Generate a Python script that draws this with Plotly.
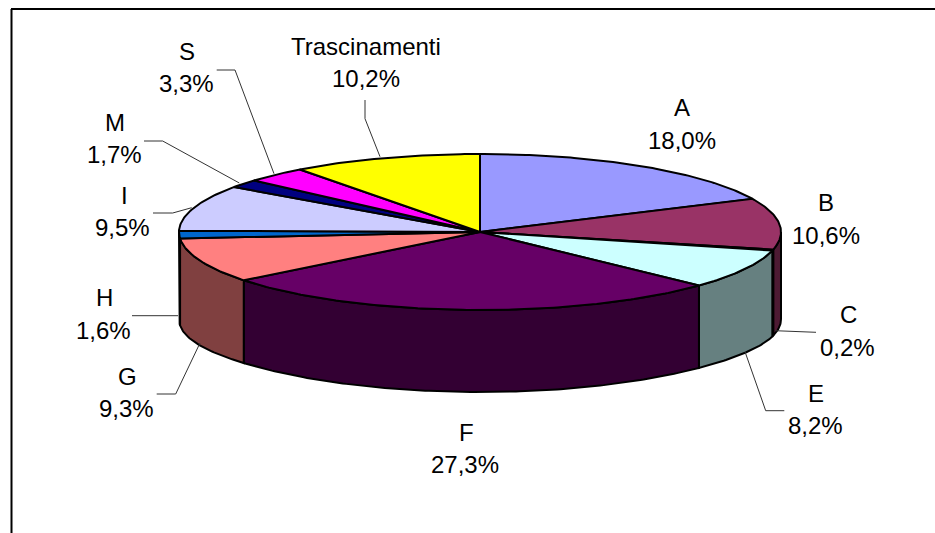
import numpy as np
import plotly.graph_objects as go

categories = ["A", "B", "C", "E", "F", "G", "H", "I", "M", "S", "Trascinamenti"]
values = [18.0, 10.6, 0.2, 8.2, 27.3, 9.3, 1.6, 9.5, 1.7, 3.3, 10.2]
top_colors = ["#9999FF", "#993366", "#FFFFCC", "#CCFFFF", "#660066", "#FF8080",
              "#0066CC", "#CCCCFF", "#000080", "#FF00FF", "#FFFF00"]
side_colors = ["#4D4D80", "#4D1A33", "#808066", "#668080", "#330033", "#804040",
               "#003366", "#666680", "#000040", "#800080", "#808000"]

# Label centres: name (x, y), value (x, y)
label_pos = {
    "A": (682, 107.7, 682, 140),
    "B": (825.7, 202, 826, 235),
    "C": (848, 314, 847, 347),
    "E": (816, 393, 815, 425),
    "F": (466, 432, 464.5, 464),
    "G": (127, 376, 126, 408),
    "H": (104, 297, 103, 330),
    "I": (124, 195, 122, 227.7),
    "M": (115, 122.7, 114, 154),
    "S": (187, 51.7, 186, 83),
    "Trascinamenti": (366, 46.7, 366, 78.7),
}
# Leader line paths
leaders = {
    "Trascinamenti": ([365, 365, 380], [100, 118.7, 156.7]),
    "S": ([216.7, 235, 274], [70, 70, 173.7]),
    "M": ([144, 162.7, 239.3], [141, 141, 183]),
    "I": ([153, 172.7, 191.7], [213, 213, 207.7]),
    "H": ([132, 178], [315.7, 315.7]),
    "G": ([156.7, 175.7, 200], [394, 394, 343]),
    "C": ([816, 775], [332.3, 330.7]),
    "E": ([784.3, 765.7, 745], [410.7, 410.7, 351.7]),
}

CX, CY, RX, RY = 480.0, 232.0, 301.0, 78.0
DEPTH, DEPTH_EXTRA = 82.0, 5.0
LINE = 2.0

total = sum(values)
ends = np.cumsum(values) / total * 2 * np.pi
starts = np.concatenate(([0.0], ends[:-1]))


def px(t):
    return CX + RX * np.sin(t)


def py(t):
    return CY - RY * np.cos(t)


def depth(t):
    return DEPTH + DEPTH_EXTRA * np.abs(np.sin(t)) ** 8


fig = go.Figure()

# Side walls: the front half of the disc, 90 to 270 degrees clockwise from top
for cat, s, e, col in zip(categories, starts, ends, side_colors):
    lo, hi = max(s, np.pi / 2), min(e, 3 * np.pi / 2)
    if hi <= lo:
        continue
    t = np.linspace(lo, hi, max(2, int((hi - lo) * 80)))
    xs = np.concatenate((px(t), px(t)[::-1], px(t)[:1]))
    ys = np.concatenate((py(t), (py(t) + depth(t))[::-1], py(t)[:1]))
    fig.add_trace(go.Scatter(x=xs, y=ys, mode="lines", fill="toself", fillcolor=col,
                             line=dict(color="black", width=LINE), hoverinfo="skip"))

# Top slices
for cat, s, e, col in zip(categories, starts, ends, top_colors):
    t = np.linspace(s, e, max(2, int((e - s) * 80)))
    xs = np.concatenate(([CX], px(t), [CX]))
    ys = np.concatenate(([CY], py(t), [CY]))
    fig.add_trace(go.Scatter(x=xs, y=ys, mode="lines", fill="toself", fillcolor=col,
                             line=dict(color="black", width=LINE), hoverinfo="skip"))

# Leader lines
for cat, (lx, ly) in leaders.items():
    fig.add_trace(go.Scatter(x=lx, y=ly, mode="lines",
                             line=dict(color="#333333", width=1), hoverinfo="skip"))

annotations = []
for cat, val in zip(categories, values):
    nx, ny, vx, vy = label_pos[cat]
    pct = f"{val:.1f}%".replace(".", ",")
    for text, x, y in ((cat, nx, ny), (pct, vx, vy)):
        annotations.append(dict(x=x, y=y, text=text, showarrow=False, xanchor="center",
                                yanchor="middle", xref="x", yref="y",
                                font=dict(family="Liberation Sans", size=24, color="black")))

fig.update_layout(
    width=935, height=533, margin=dict(l=0, r=0, t=0, b=0),
    paper_bgcolor="white", plot_bgcolor="white", showlegend=False,
    xaxis=dict(range=[0, 935], visible=False, fixedrange=True),
    yaxis=dict(range=[533, 0], visible=False, fixedrange=True),
    annotations=annotations,
    shapes=[
        dict(type="line", x0=11.5, x1=11.5, y0=9, y1=533, line=dict(color="black", width=2)),
        dict(type="line", x0=11, x1=935, y0=9, y1=9, line=dict(color="black", width=2)),
    ],
)

fig.write_html("out.html", config={"displayModeBar": False},
               post_script="document.body.style.margin='0';document.body.style.overflow='hidden';")
